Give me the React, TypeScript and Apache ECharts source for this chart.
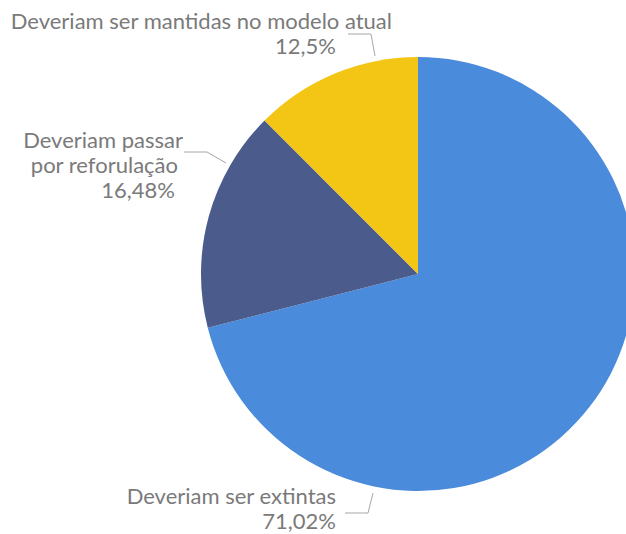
import React, { useEffect, useRef } from "react";
import * as echarts from "echarts";

const categories = [
  "Deveriam ser extintas",
  "Deveriam passar\npor reforulação",
  "Deveriam ser mantidas no modelo atual",
];
const values = [71.02, 16.48, 12.5];
const colors = ["#4A8BDC", "#4B5B8B", "#F3C515"];

// label placement (right edge x, middle y) and leader lines
const labelAnchors = [
  [336, 508],
  [183, 164],
  [392, 33],
];
const leaderLines = [
  [[345, 513], [368, 513], [373, 493]],
  [[184, 152], [207, 152], [226, 163]],
  [[348, 34], [371, 34], [375, 56]],
];
// right padding per line to mimic the reference's uneven line ends
const linePads = [
  [0, 0],
  [0, 5, 8],
  [0, 56],
];

export default function App() {
  const ref = useRef<HTMLDivElement>(null);
  useEffect(() => {
    if (!ref.current) return;
    const chart = echarts.init(ref.current, null, { renderer: "svg" });
    const baseText = { color: "#7A7A7A", fontSize: 22, fontFamily: "Lato", lineHeight: 25 };
    const data = categories.map((name, i) => {
      const lines = [...name.split("\n"), values[i].toString().replace(".", ",") + "%"];
      const rich: Record<string, any> = {};
      lines.forEach((_, j) => {
        rich["l" + j] = { ...baseText, padding: [0, linePads[i][j] || 0, 0, 0] };
      });
      return {
        name,
        value: values[i],
        itemStyle: { color: colors[i] },
        label: {
          formatter: lines.map((t, j) => `{l${j}|${t}}`).join("\n"),
          rich,
        },
      };
    });
    chart.setOption({
      animation: false,
      series: [
        {
          type: "pie",
          center: [418, 274],
          radius: 217,
          startAngle: 90,
          clockwise: true,
          avoidLabelOverlap: false,
          data,
          label: {
            show: true,
            position: "outside",
            overflow: "none",
            ...baseText,
            align: "right",
          },
          labelLine: {
            show: true,
            lineStyle: { color: "#A6A6A6", width: 1 },
          },
          labelLayout: (params: any) => {
            const i = params.dataIndex;
            return {
              x: labelAnchors[i][0],
              y: labelAnchors[i][1],
              align: "right",
              verticalAlign: "middle",
              hideOverlap: false,
              labelLinePoints: leaderLines[i],
            };
          },
          emphasis: { disabled: true },
        },
      ],
    });
    return () => chart.dispose();
  }, []);
  return (
    <div
      ref={ref}
      style={{ position: "fixed", left: 0, top: 0, width: 626, height: 534, background: "#fff" }}
    />
  );
}
